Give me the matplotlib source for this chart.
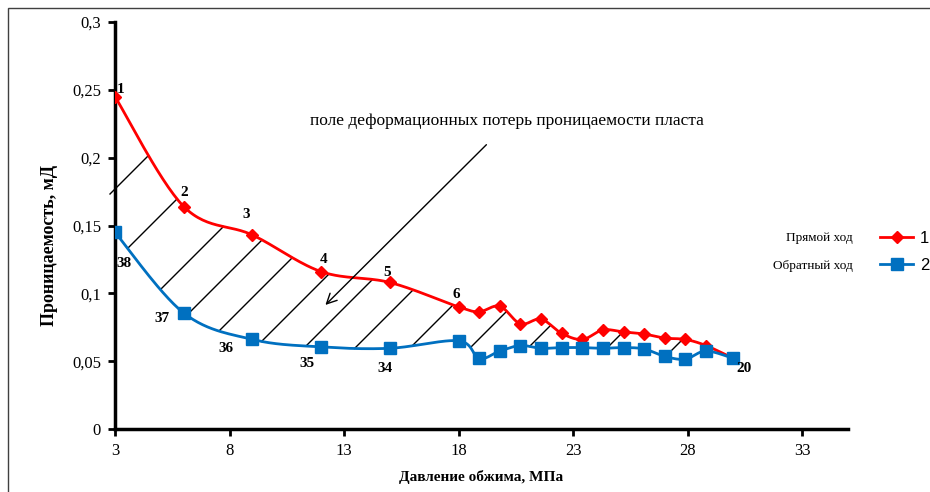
import numpy as np
import matplotlib.pyplot as plt
from matplotlib.patches import Rectangle

# прямой ход (1..19) и обратный ход (38..20)
p_forward = [3, 6, 9, 12, 15, 18, 18.9, 19.8, 20.7, 21.6, 22.5, 23.4, 24.3, 25.2, 26.1, 27, 27.9, 28.8, 30]
k_forward = [0.245, 0.164, 0.143, 0.116, 0.108, 0.090, 0.0865, 0.0905, 0.0775, 0.081, 0.0705, 0.066,
             0.073, 0.0715, 0.070, 0.067, 0.066, 0.0615, 0.052]
p_back = [3, 6, 9, 12, 15, 18, 18.9, 19.8, 20.7, 21.6, 22.5, 23.4, 24.3, 25.2, 26.1, 27, 27.9, 28.8, 30]
k_back = [0.145, 0.0855, 0.066, 0.0605, 0.0595, 0.065, 0.052, 0.0575, 0.0615, 0.0595, 0.060, 0.060,
          0.0595, 0.060, 0.059, 0.0535, 0.0515, 0.0575, 0.052]

fwd_labels = {0: '1', 1: '2', 2: '3', 3: '4', 4: '5', 5: '6'}
fwd_offsets = {0: (6, 7), 1: (0, 14), 2: (-6, 20), 3: (2, 12), 4: (-3, 10), 5: (-2, 12)}
back_labels = {0: '38', 1: '37', 2: '36', 3: '35', 4: '34', 18: '20'}
back_offsets = {0: (9, -31), 1: (-22, -5), 2: (-26, -9), 3: (-14, -17), 4: (-5, -20), 18: (11, -10)}

# положение штриховки (x+y в пикселях для линий под 45°)
hatch_c = [304, 376, 450, 502, 550, 603, 652, 703, 758, 818, 876, 955, 1022]

xlim = (3, 35)
ylim = (0, 0.3)

W, H = 930, 492
fig = plt.figure(figsize=(W / 100, H / 100), dpi=100)
ax_l, ax_b, ax_w, ax_h = 115, 63, 733, 407
ax = fig.add_axes([ax_l / W, ax_b / H, ax_w / W, ax_h / H])
ax.set_xlim(*xlim)
ax.set_ylim(*ylim)
sx = ax_w / (xlim[1] - xlim[0])
sy = ax_h / (ylim[1] - ylim[0])


def smooth(xs, ys, n=30):
    # сглаживание как в Excel (Безье с касательными Катмулла-Рома) в пиксельном пространстве
    P = np.column_stack([np.array(xs) * sx, np.array(ys) * sy])
    out = [P[0]]
    for i in range(len(P) - 1):
        p0 = P[i - 1] if i > 0 else P[i]
        p1, p2 = P[i], P[i + 1]
        p3 = P[i + 2] if i + 2 < len(P) else P[i + 1]
        c1 = p1 + (p2 - p0) / 6
        c2 = p2 - (p3 - p1) / 6
        t = np.linspace(0, 1, n)[1:, None]
        seg = (1 - t) ** 3 * p1 + 3 * (1 - t) ** 2 * t * c1 + 3 * (1 - t) * t ** 2 * c2 + t ** 3 * p2
        out.extend(seg)
    out = np.array(out)
    return out[:, 0] / sx, out[:, 1] / sy


fx, fy = smooth(p_forward, k_forward)
bx, by = smooth(p_back, k_back)

red = '#FF0000'
blue = '#0070C0'

ax.plot(fx, fy, color=red, lw=2, zorder=3)
ax.plot(p_forward, k_forward, ls='none', marker='D', ms=6.5, color=red, zorder=4)
ax.plot(bx, by, color=blue, lw=2, zorder=3)
ax.plot(p_back, k_back, ls='none', marker='s', ms=8.5, color=blue, zorder=5)


def to_pix(x, y):
    return ax_l + (np.asarray(x) - xlim[0]) * sx, (H - ax_b) - (np.asarray(y) - ylim[0]) * sy


def cross(cx, cy, c):
    # пересечение линии x+y=c с ломаной
    px, py = to_pix(cx, cy)
    f = px + py - c
    idx = np.where(np.sign(f[:-1]) != np.sign(f[1:]))[0]
    if len(idx) == 0:
        return None
    i = idx[0]
    t = f[i] / (f[i] - f[i + 1])
    return px[i] + t * (px[i + 1] - px[i]), py[i] + t * (py[i + 1] - py[i])


def to_data(px, py):
    return xlim[0] + (px - ax_l) / sx, ylim[0] + ((H - ax_b) - py) / sy


for c in hatch_c:
    top = cross(fx, fy, c)
    low = cross(bx, by, c)
    if low is None:
        lx = ax_l - 5
        low = (lx, c - lx)
    x0, y0 = to_data(*low)
    x1, y1 = to_data(*top)
    ax.plot([x0, x1], [y0, y1], color='black', lw=1, zorder=2, clip_on=False)

ax.annotate('', xy=(12.1, 0.090), xytext=(19.3, 0.211),
            arrowprops=dict(arrowstyle='->', color='black', lw=1, mutation_scale=18))
ax.text(20.1, 0.227, 'поле деформационных потерь проницаемости пласта',
        family='Liberation Serif', fontsize=12.5, ha='center', va='center')

for i, s in fwd_labels.items():
    ax.annotate(s, (p_forward[i], k_forward[i]), xytext=fwd_offsets[i], textcoords='offset pixels',
                ha='center', va='center', family='Liberation Serif', fontweight='bold', fontsize=11, zorder=6)
for i, s in back_labels.items():
    ax.annotate(s, (p_back[i], k_back[i]), xytext=back_offsets[i], textcoords='offset pixels',
                ha='center', va='center', family='Liberation Serif', fontweight='bold', fontsize=11, zorder=6)

ax.set_xticks(np.arange(3, 34, 5))
ax.set_yticks(np.arange(0, 0.31, 0.05))
ax.set_yticklabels(['0', '0,05', '0,1', '0,15', '0,2', '0,25', '0,3'])
for lab in ax.get_xticklabels() + ax.get_yticklabels():
    lab.set_family('Liberation Serif')
    lab.set_fontsize(12)
ax.tick_params(direction='out', length=5, width=2, pad=5)
for side in ['top', 'right']:
    ax.spines[side].set_visible(False)
for side in ['left', 'bottom']:
    ax.spines[side].set_linewidth(2.5)

ax.set_xlabel('Давление обжима, МПа', family='Liberation Serif', fontweight='bold', fontsize=11, labelpad=8)
ax.set_ylabel('Проницаемость, мД', family='Liberation Serif', fontweight='bold', fontsize=13)
ax.yaxis.set_label_coords(-0.078, 0.45)

h1, = ax.plot([], [], color=red, lw=2, marker='D', ms=6.5)
h2, = ax.plot([], [], color=blue, lw=2, marker='s', ms=8.5)
fig.legend([h1, h2], ['1', '2'], loc='center left', bbox_to_anchor=(865 / W, 1 - 252 / H),
           frameon=False, handlelength=2.0, handletextpad=0.4, labelspacing=0.75,
           borderpad=0.4, borderaxespad=0.5,
           prop={'family': 'Liberation Sans', 'size': 12})
fig.text(853 / W, 1 - 238 / H, 'Прямой ход', family='Liberation Serif', fontsize=9.5, ha='right', va='center')
fig.text(853 / W, 1 - 266 / H, 'Обратный ход', family='Liberation Serif', fontsize=9.5, ha='right', va='center')

fig.patches.append(Rectangle((8 / W, -0.1), 1.2, 1 - 8 / H + 0.1, transform=fig.transFigure,
                             fill=False, edgecolor='#404040', lw=1))

fig.savefig('out.png', dpi=100)
